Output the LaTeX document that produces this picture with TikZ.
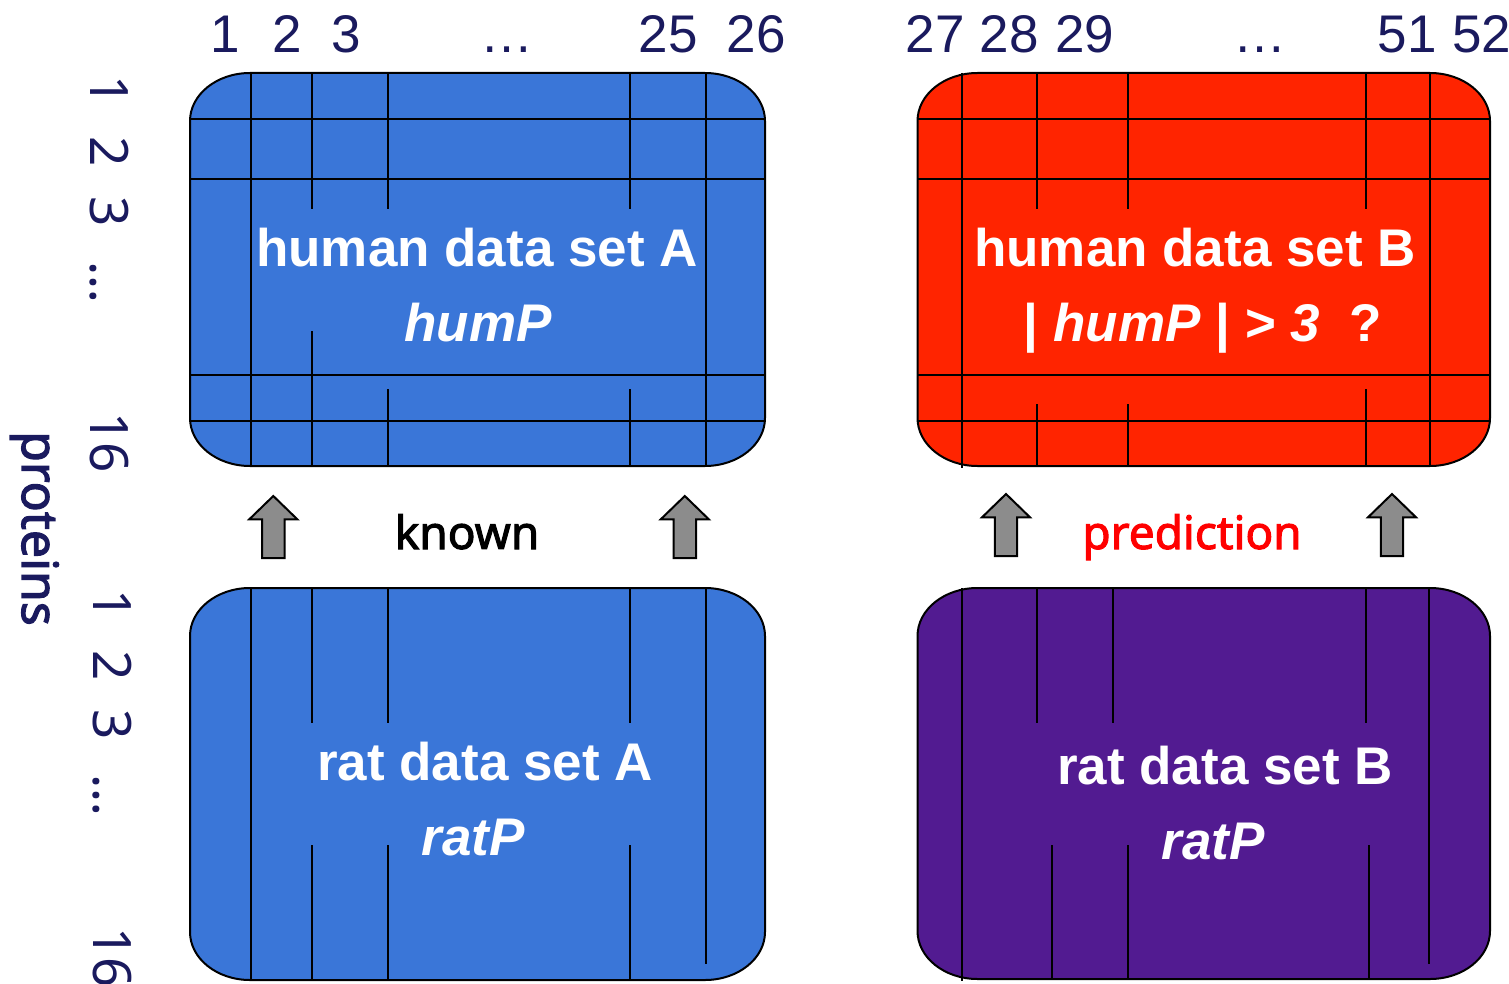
\documentclass[tikz,border=0pt]{standalone}
\usepackage{fontspec}
\setmainfont{Liberation Sans}
\newfontfamily\notosans{Noto Sans}
\newfontfamily\notobold{Noto Sans}[FakeBold=2.2]
\definecolor{navy}{RGB}{26,26,94}
\definecolor{setblue}{RGB}{58,118,216}
\definecolor{setred}{RGB}{255,36,0}
\definecolor{setpurple}{RGB}{82,27,145}
\definecolor{arrowgray}{RGB}{140,140,140}

% rounded box with elliptic corners: x0 y0 x1 y1 colour
\newcommand\rx{60}
\newcommand\ry{48}
\newcommand\databox[5]{%
  \filldraw[boxline, fill=#5]
    ({#1+\rx},#2) -- ({#3-\rx},#2)
    .. controls ({#3-0.448*\rx},#2) and (#3,{#2+0.448*\ry}) .. (#3,{#2+\ry})
    -- (#3,{#4-\ry})
    .. controls (#3,{#4-0.448*\ry}) and ({#3-0.448*\rx},#4) .. ({#3-\rx},#4)
    -- ({#1+\rx},#4)
    .. controls ({#1+0.448*\rx},#4) and (#1,{#4-0.448*\ry}) .. (#1,{#4-\ry})
    -- (#1,{#2+\ry})
    .. controls (#1,{#2+0.448*\ry}) and ({#1+0.448*\rx},#2) .. ({#1+\rx},#2) -- cycle;
}

\tikzset{
  boxline/.style={line width=1pt},
  cellline/.style={line width=1pt},
  settitle/.style={text=white, anchor=base, inner sep=0pt,
    font=\fontsize{26.5}{30}\selectfont\bfseries},
  colnum/.style={text=navy, anchor=base, inner sep=0pt,
    font=\fontsize{26.5}{30}\selectfont},
  rownum/.style={text=navy, anchor=base, rotate=-90, inner sep=0pt,
    font=\notosans\fontsize{26.5}{30}\selectfont},
  flowlabel/.style={anchor=base, inner sep=0pt,
    font=\notobold\fontsize{23}{26}\selectfont},
  uparrow/.pic={
    \draw[line width=1pt, fill=arrowgray, line join=miter]
      (-11.2,31) -- (-11.2,-7.7) -- (-24,-7.7) -- (0,-31)
      -- (24,-7.7) -- (11.2,-7.7) -- (11.2,31) -- cycle;
  }
}

\begin{document}
\begin{tikzpicture}[x=0.5pt,y=-0.5pt]
\useasboundingbox (0,0) rectangle (1509,984);

% the four data sets
\databox{190}{73}{765}{466}{setblue}
\databox{917.5}{73}{1490}{466}{setred}
\databox{190}{588}{765}{980}{setblue}
\databox{917.5}{588}{1490}{979}{setpurple}

% rows of the human sets
\foreach \y in {119,179,375,421}{
  \draw[cellline] (190,\y) -- (765,\y);
  \draw[cellline] (917.5,\y) -- (1490,\y);
}
% columns, left open round the labels
\foreach \x/\ya/\yb in {251/73/466, 311.5/73/209, 311.5/331/466,
    387.5/73/209, 387.5/389/466, 630/73/209, 630/389/466, 705.5/73/466,
    962/73/468, 1037/73/209, 1037/404/466, 1127.5/73/209, 1127.5/404/466,
    1365.5/73/209, 1365.5/389/466, 1430/73/466,
    251/588/980, 311.5/588/723, 311.5/845/980, 387.5/588/723, 387.5/845/980,
    630/588/723, 630/845/980, 705.5/588/964,
    962/588/981, 1037/588/723, 1112.5/588/723, 1365.5/588/723,
    1052/845/979, 1127.5/845/979, 1369/845/979, 1429/588/964}
  \draw[cellline] (\x,\ya) -- (\x,\yb);

% texts in the sets
\node[settitle] (hA) at (477,266) {human data set A};
\node[settitle] (hAp) at (478,341) {\itshape humP};
\node[settitle] (hB) at (1195,266) {human data set B};
\node[settitle] (hBp) at (1203,341) {| \textit{humP} | > \textit{3}\ \ ?};
\node[settitle] (rA) at (485,780) {rat data set A};
\node[settitle] (rAp) at (473,855) {\itshape ratP};
\node[settitle] (rB) at (1225,784) {rat data set B};
\node[settitle] (rBp) at (1213,859) {\itshape ratP};

% arrows between rat and human
\pic (ka) at (273.3,527) {uparrow};
\pic (kb) at (684.8,527) {uparrow};
\pic (pa) at (1006,525) {uparrow};
\pic (pb) at (1392,525) {uparrow};
\node[flowlabel] (known) at (467,549) {known};
\node[flowlabel, text=red] (pred) at (1192,549) {prediction};

% column numbers
\foreach \t/\x [count=\i] in {1/225.5, 2/287, 3/346.5, …/507, 25/668, 26/756,
    27/935, 28/1009, 29/1084.5, …/1259.5, 51/1407, 52/1481.5}
  \node[colnum] (c\i) at (\x,53) {\t};

% protein numbers
\foreach \t/\y [count=\i] in {1/90.5, 2/151.5, 3/211.5, …/282, 16/442.5}
  \node[rownum] (ra\i) at (90.5,\y) {\t};
\foreach \t/\y [count=\i] in {1/604.5, 2/665.5, 3/725, …/795, 16/957.5}
  \node[rownum] (rb\i) at (93,\y) {\t};
\node[rownum, font=\notobold\fontsize{25}{30}\selectfont] (prot) at (22,528.5) {proteins};
\end{tikzpicture}
\end{document}
